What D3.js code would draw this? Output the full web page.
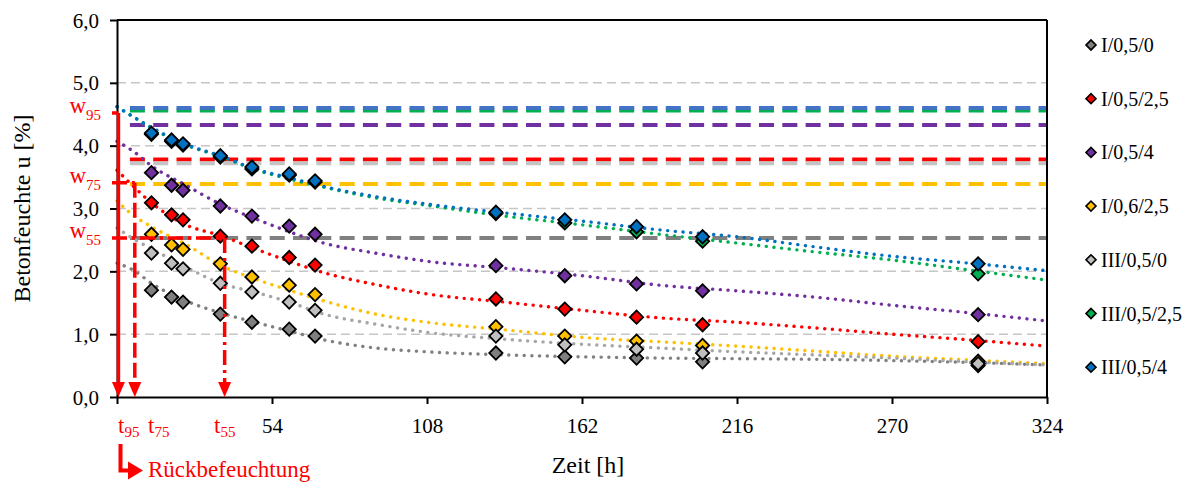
<!DOCTYPE html>
<html><head><meta charset="utf-8">
<script src="https://cdn.jsdelivr.net/npm/d3@7"></script>
<style>body{margin:0;background:#fff}svg{display:block;font-family:"Liberation Serif","Times New Roman",serif}</style>
</head><body><svg id="c" width="1196" height="484"></svg>
<script>
// ---------- data ----------
const seriesNames = ["I/0,5/0","I/0,5/2,5","I/0,5/4","I/0,6/2,5","III/0,5/0","III/0,5/2,5","III/0,5/4"];
const markerColors = ["#7f7f7f","#ff0000","#7030a0","#ffc000","#bfbfbf","#00b050","#0070c0"];
const levelColors  = ["#808080","#ff0000","#7030a0","#ffc000","#c4c4c4","#00b050","#4472c4"];
const trendColors  = ["#808080","#ff0000","#7030a0","#ffc000","#a6a6a6","#00b050","#0070c0"];

const times = [12,19,23,36,47,60,69,132,156,181,204,300];
const u_I_05_0    = [1.70,1.59,1.51,1.32,1.19,1.08,0.97,0.70,0.64,0.62,0.56,0.50];
const u_I_05_25   = [3.09,2.90,2.82,2.56,2.40,2.22,2.10,1.56,1.40,1.27,1.15,0.88];
const u_I_05_4    = [3.57,3.37,3.29,3.04,2.88,2.72,2.59,2.09,1.93,1.80,1.69,1.31];
const u_I_06_25   = [2.59,2.42,2.35,2.12,1.91,1.78,1.63,1.12,0.97,0.89,0.82,0.57];
const u_III_05_0  = [2.29,2.13,2.04,1.81,1.67,1.51,1.38,0.97,0.83,0.76,0.70,0.53];
const u_III_05_25 = [4.18,4.07,4.01,3.82,3.63,3.53,3.42,2.92,2.77,2.63,2.48,1.96];
const u_III_05_4  = [4.20,4.09,4.03,3.84,3.66,3.55,3.44,2.94,2.82,2.71,2.55,2.12];
const seriesValues = [u_I_05_0,u_I_05_25,u_I_05_4,u_I_06_25,u_III_05_0,u_III_05_25,u_III_05_4];

// trend lines
const tTrend = [0,6,12,24,36,48,60,72,90,108,135,162,189,216,243,270,297,324];
const tr_I_05_0    = [2.13,2.01,1.81,1.53,1.34,1.19,1.05,0.91,0.78,0.72,0.67,0.64,0.62,0.61,0.60,0.58,0.55,0.51];
const tr_I_05_25   = [3.61,3.34,3.09,2.74,2.57,2.36,2.16,1.98,1.79,1.64,1.51,1.38,1.26,1.19,1.10,1.00,0.91,0.81];
const tr_I_05_4    = [4.07,3.90,3.68,3.37,3.07,2.84,2.63,2.45,2.29,2.16,2.05,1.93,1.78,1.69,1.59,1.46,1.34,1.21];
const tr_I_06_25   = [3.12,2.88,2.71,2.43,2.10,1.88,1.70,1.53,1.32,1.19,1.07,0.95,0.88,0.81,0.73,0.65,0.59,0.53];
const tr_III_05_0  = [2.69,2.51,2.36,2.07,1.81,1.67,1.51,1.32,1.16,1.03,0.92,0.84,0.78,0.72,0.67,0.62,0.56,0.51];
const tr_III_05_25 = [4.62,4.45,4.28,4.01,3.83,3.62,3.47,3.34,3.17,3.05,2.88,2.74,2.59,2.45,2.31,2.18,2.02,1.86];
const tr_III_05_4  = [4.62,4.45,4.29,4.02,3.84,3.63,3.49,3.35,3.19,3.07,2.93,2.80,2.66,2.55,2.39,2.24,2.13,2.01];
const trendValues = [tr_I_05_0,tr_I_05_25,tr_I_05_4,tr_I_06_25,tr_III_05_0,tr_III_05_25,tr_III_05_4];

// horizontal level lines
const levelValues = [2.53,3.78,4.33,3.39,3.72,4.56,4.60];
const levelStart = 4.5;

// annotations
const annSub = ["95","75","55"];
const annW = [4.52,3.41,2.53];
const annT = [0.5,6.2,37.5];
const annDash = [null,"15,5","15,5,3,5"];

const yTicks = [0,1,2,3,4,5,6];
const xTicks = [0,54,108,162,216,270,324];
const gridY = [1,2,3,4,5];

// ---------- chart ----------
const svg = d3.select("#c");
const x = d3.scaleLinear().domain([0,324]).range([117,1047]);
const y = d3.scaleLinear().domain([0,6]).range([397,20]);
const RED = "#ff0000";

// gridlines
svg.append("g").selectAll("line").data(gridY).join("line")
  .attr("x1",x(0)).attr("x2",x(324)).attr("y1",d=>y(d)).attr("y2",d=>y(d))
  .attr("stroke","#c6c6c6").attr("stroke-width",1.5).attr("stroke-dasharray","9,5");

// level lines
svg.append("g").selectAll("line").data(levelValues).join("line")
  .attr("x1",x(levelStart)).attr("x2",x(324)).attr("y1",d=>y(d)).attr("y2",d=>y(d))
  .attr("stroke",(d,i)=>levelColors[i]).attr("stroke-width",4).attr("stroke-dasharray","15,8.3");

// trend lines
const line = d3.line().x(d=>x(d[0])).y(d=>y(d[1])).curve(d3.curveMonotoneX);
trendValues.forEach((vals,i)=>{
  svg.append("path").attr("d",line(tTrend.map((t,k)=>[t,vals[k]])))
    .attr("fill","none").attr("stroke",trendColors[i]).attr("stroke-width",3.4)
    .attr("stroke-linecap","round").attr("stroke-dasharray","0.1,7.6");
});

// markers
const diamond = d3.symbol().type(d3.symbolSquare).size(88);
seriesValues.forEach((vals,i)=>{
  svg.append("g").selectAll("path").data(vals).join("path")
    .attr("d",diamond)
    .attr("transform",(d,k)=>`translate(${x(times[k])},${y(d)}) rotate(45)`)
    .attr("fill",markerColors[i]).attr("stroke","#000").attr("stroke-width",1.8);
});

// frame
svg.append("line").attr("x1",x(0)).attr("x2",x(324)).attr("y1",y(6)).attr("y2",y(6)).attr("stroke","#000").attr("stroke-width",2);
svg.append("line").attr("x1",x(324)).attr("x2",x(324)).attr("y1",y(6)).attr("y2",y(0)).attr("stroke","#000").attr("stroke-width",2);

// axes
const yAxis = svg.append("g").attr("transform",`translate(${x(0)},0)`)
  .call(d3.axisLeft(y).tickValues(yTicks).tickSize(7).tickSizeOuter(0).tickPadding(11)
    .tickFormat(d=>d.toFixed(1).replace(".",",")));
const xAxis = svg.append("g").attr("transform",`translate(0,${y(0)})`)
  .call(d3.axisBottom(x).tickValues(xTicks).tickSize(7).tickSizeOuter(0)
    .tickFormat(d=>d===0?"":d));
[yAxis,xAxis].forEach(a=>{
  a.select(".domain").attr("stroke","#000").attr("stroke-width",2);
  a.selectAll(".tick line").attr("stroke","#000").attr("stroke-width",2);
  a.selectAll("text").attr("font-family",'"Liberation Serif","Times New Roman",serif')
    .attr("font-size",21).attr("fill","#000");
});
yAxis.selectAll("text").attr("dy","0.34em");
xAxis.selectAll("text").attr("y",36).attr("dy",0);

// axis titles
svg.append("text").attr("transform",`translate(30,${(y(0)+y(6))/2}) rotate(-90)`)
  .attr("text-anchor","middle").attr("font-size",24).text("Betonfeuchte u [%]");
svg.append("text").attr("x",588).attr("y",473).attr("text-anchor","middle")
  .attr("font-size",24).text("Zeit [h]");

// legend
seriesNames.forEach((n,i)=>{
  const cy = 45 + i*53.7;
  svg.append("path").attr("d",d3.symbol().type(d3.symbolSquare).size(50))
    .attr("transform",`translate(1091,${cy}) rotate(45)`)
    .attr("fill",markerColors[i]).attr("stroke","#000").attr("stroke-width",1.6);
  svg.append("text").attr("x",1101).attr("y",cy+7).attr("font-size",20).text(n);
});

// red annotations
const ann = svg.append("g");
annW.forEach((w,i)=>{
  const xv = x(annT[i]), yv = y(w);
  const dash = annDash[i];
  const h = ann.append("line").attr("x1",112).attr("x2",xv).attr("y1",yv).attr("y2",yv)
    .attr("stroke",RED).attr("stroke-width",3.5);
  const v = ann.append("line").attr("x1",xv).attr("x2",xv).attr("y1",yv).attr("y2",y(0)-14)
    .attr("stroke",RED).attr("stroke-width",3.5);
  if(dash){h.attr("stroke-dasharray",dash);v.attr("stroke-dasharray",dash);}
  ann.append("path").attr("d",`M${xv-6.5},${y(0)-15}L${xv+6.5},${y(0)-15}L${xv},${y(0)}Z`).attr("fill",RED);
  // w label
  const wt = ann.append("text").attr("x",101).attr("y",yv).attr("text-anchor","end").attr("fill",RED).attr("font-size",23);
  wt.append("tspan").text("w");
  wt.append("tspan").attr("font-size",15).attr("dy",7).text(annSub[i]);
});
const tLabelX = [118,148,214];
annSub.forEach((s,i)=>{
  const tt = ann.append("text").attr("x",tLabelX[i]).attr("y",433).attr("fill",RED).attr("font-size",23);
  tt.append("tspan").text("t");
  tt.append("tspan").attr("font-size",15).attr("dy",4).text(s);
});
// Rückbefeuchtung
ann.append("path").attr("d","M120.5,444V470.5H130").attr("fill","none").attr("stroke",RED).attr("stroke-width",4);
ann.append("path").attr("d","M128,461.5L128,479.5L143,470.5Z").attr("fill",RED);
ann.append("text").attr("x",148).attr("y",477).attr("fill",RED).attr("font-size",23).text("Rückbefeuchtung");
</script></body></html>
